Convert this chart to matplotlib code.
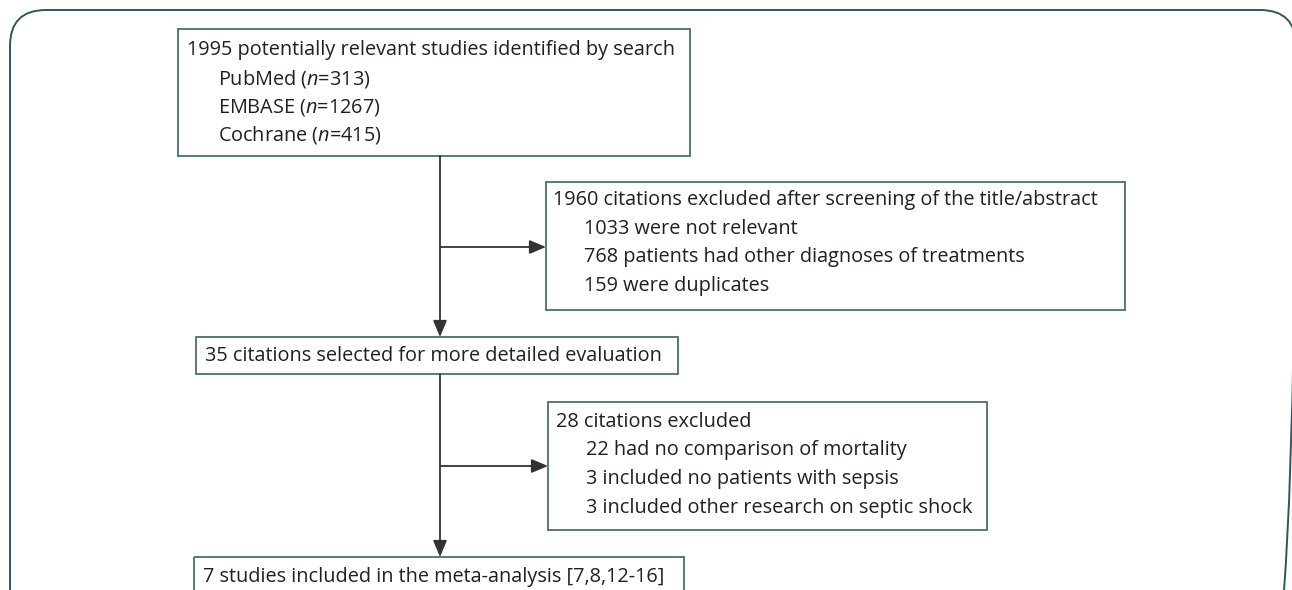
import matplotlib
matplotlib.use("Agg")
import matplotlib.pyplot as plt
from matplotlib.patches import Rectangle, FancyBboxPatch

plt.rcParams['font.family'] = ['Open Sans', 'DejaVu Sans']
plt.rcParams['mathtext.fontset'] = 'custom'
plt.rcParams['mathtext.rm'] = 'Open Sans'
plt.rcParams['mathtext.it'] = 'Open Sans:italic'

# datos del diagrama
total_busqueda = 1995
fuentes = ["PubMed", "EMBASE", "Cochrane"]
n_fuentes = [313, 1267, 415]

excluidos_cribado = 1960
motivos_cribado = ["were not relevant", "patients had other diagnoses of treatments", "were duplicates"]
n_cribado = [1033, 768, 159]

seleccionados = 35

excluidos_texto = 28
motivos_texto = ["had no comparison of mortality", "included no patients with sepsis",
                 "included other research on septic shock"]
n_texto = [22, 3, 3]

incluidos = 7
referencias = "[7,8,12-16]"

# textos de cada caja
txt1 = [f"{total_busqueda} potentially relevant studies identified by search"] + \
       [f"{f} ($n$={n})" for f, n in zip(fuentes, n_fuentes)]
txt2 = [f"{excluidos_cribado} citations excluded after screening of the title/abstract"] + \
       [f"{n} {m}" for n, m in zip(n_cribado, motivos_cribado)]
txt3 = [f"{seleccionados} citations selected for more detailed evaluation"]
txt4 = [f"{excluidos_texto} citations excluded"] + [f"{n} {m}" for n, m in zip(n_texto, motivos_texto)]
txt5 = [f"{incluidos} studies included in the meta-analysis {referencias}"]

W, H = 1292, 590
fig = plt.figure(figsize=(W / 100, H / 100), dpi=100)
ax = fig.add_axes([0, 0, 1, 1])
ax.set_xlim(0, W)
ax.set_ylim(H, 0)
ax.axis('off')

c_texto = '#231f20'
c_borde = '#4d6e71'
c_flecha = '#333333'
fs = 14.3
paso = 28.5

# marco redondeado exterior
ax.add_patch(FancyBboxPatch((10, 10), 1286, 700, boxstyle="round,pad=0,rounding_size=36",
                            fill=False, ec='#2f575b', lw=1.4))

# cajas: x0, y0, x1, y1, x texto, sangria, y primera linea, lineas
cajas = [
    (178, 29, 690, 156, 187, 218, 50, txt1),
    (546, 182, 1125, 310, 553, 584, 200, txt2),
    (196, 337, 678, 374, 205, 205, 356, txt3),
    (548, 402, 987, 530, 556, 586, 422, txt4),
    (194, 557, 684, 620, 203, 203, 577, txt5),
]
for x0, y0, x1, y1, xt, xs, yt, lineas in cajas:
    ax.add_patch(Rectangle((x0, y0), x1 - x0, y1 - y0, fill=False, ec=c_borde, lw=1.3))
    for i, l in enumerate(lineas):
        ax.text(xt if i == 0 else xs, yt + i * paso, l, fontsize=fs, color=c_texto,
                ha='left', va='center')

def flecha(x0, y0, x1, y1):
    ax.annotate('', xy=(x1, y1), xytext=(x0, y0),
                arrowprops=dict(arrowstyle='-|>,head_length=1.0,head_width=0.42',
                                color=c_flecha, lw=1.3, shrinkA=0, shrinkB=0))

xc = 440
flecha(xc, 156, xc, 337)
flecha(xc, 247, 546, 247)
flecha(xc, 374, xc, 557)
flecha(xc, 466, 548, 466)

fig.savefig("out.png", dpi=100)
